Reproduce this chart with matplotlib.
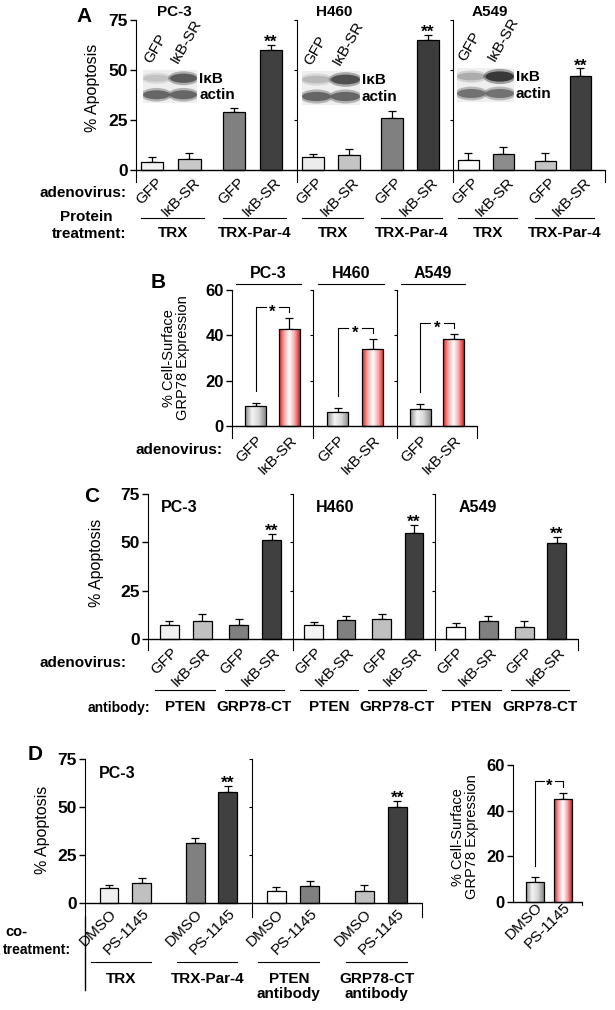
import numpy as np
import matplotlib
matplotlib.use("Agg")
import matplotlib.pyplot as plt
import matplotlib.transforms as mtransforms
from matplotlib.colors import LinearSegmentedColormap
from matplotlib.patches import Ellipse, Rectangle

plt.rcParams['font.family'] = ['Liberation Sans', 'DejaVu Sans']

# ---- data ----
cell_lines = ['PC-3', 'H460', 'A549']
adeno_labels = ['GFP', 'IκB-SR', 'GFP', 'IκB-SR']
protein_treatments = ['TRX', 'TRX-Par-4']

a_values = [[3.8, 5.7, 28.8, 60.0], [6.3, 7.7, 26.0, 65.0], [5.0, 8.0, 4.7, 47.0]]
a_errors = [[2.9, 2.6, 2.4, 2.5], [1.7, 2.6, 3.5, 2.5], [3.3, 3.7, 4.0, 3.8]]
a_colors = [['#f2f2f2', '#c8c8c8', '#808080', '#404040'],
            ['#ececec', '#c4c4c4', '#808080', '#3c3c3c'],
            ['#ffffff', '#8c8c8c', '#c4c4c4', '#404040']]
blot_ikb = [[0.25, 0.7], [0.3, 0.75], [0.35, 0.85]]
blot_actin = [[0.65, 0.65], [0.65, 0.65], [0.6, 0.6]]

b_labels = ['GFP', 'IκB-SR']
b_values = [[9.0, 42.6], [6.3, 34.1], [7.5, 38.4]]
b_errors = [[1.3, 5.0], [1.8, 4.3], [2.4, 2.2]]

c_values = [[7.4, 9.5, 7.4, 51.3], [7.1, 10.0, 10.5, 55.0], [6.0, 9.1, 6.0, 49.4]]
c_errors = [[2.1, 3.4, 2.8, 3.1], [1.7, 1.7, 2.4, 4.0], [2.3, 2.6, 3.1, 3.3]]
c_colors = [['#f0f0f0', '#c0c0c0', '#808080', '#404040'],
            ['#f4f4f4', '#808080', '#c0c0c0', '#404040'],
            ['#ffffff', '#808080', '#c0c0c0', '#404040']]
antibodies = ['PTEN', 'GRP78-CT']

d_labels = ['DMSO', 'PS-1145', 'DMSO', 'PS-1145']
d_groups = [['TRX', 'TRX-Par-4'], ['PTEN\nantibody', 'GRP78-CT\nantibody']]
d_values = [[7.6, 10.2, 31.5, 58.0], [6.4, 8.7, 6.4, 49.9]]
d_errors = [[1.8, 2.6, 2.6, 3.0], [1.9, 2.7, 3.0, 3.1]]
d_colors = [['#f0f0f0', '#c0c0c0', '#808080', '#404040'],
            ['#ffffff', '#808080', '#c0c0c0', '#404040']]
d2_labels = ['DMSO', 'PS-1145']
d2_values = [8.6, 45.3]
d2_errors = [2.3, 2.6]

# ---- layout helpers (pixel coords, origin top-left) ----
W, H = 615, 1010
fig = plt.figure(figsize=(W / 100, H / 100), dpi=100)
PX = mtransforms.Affine2D().scale(1 / W, -1 / H).translate(0, 1) + fig.transFigure


def add_ax(x0, y0, x1, y1):
    return fig.add_axes([x0 / W, 1 - y1 / H, (x1 - x0) / W, (y1 - y0) / H])


def ftext(x, y, s, **kw):
    kw.setdefault('ha', 'center')
    kw.setdefault('va', 'center')
    fig.text(x, y, s, transform=PX, **kw)


def bt(ax):
    return mtransforms.blended_transform_factory(ax.transData, PX)


def style_ax(ax, xlim, ylim, yticks, first, last, size=12.5):
    ax.set_xlim(*xlim)
    ax.set_ylim(*ylim)
    ax.spines[['top', 'bottom']].set_visible(False)
    ax.spines['right'].set_visible(last)
    if last:
        ax.spines['right'].set_bounds(ylim[0], 0)
    ax.axhline(0, color='black', lw=1, zorder=4)
    ax.set_yticks(yticks)
    if first:
        ax.tick_params(axis='y', length=4, width=1, labelsize=size, pad=2)
        for t in ax.get_yticklabels():
            t.set_fontweight('bold')
    else:
        ax.tick_params(axis='y', length=2, width=0.8, labelleft=False)
    ax.patch.set_alpha(0)


def xlabels(ax, pos, labels, size=11, pad=0, dx=6):
    ax.set_xticks(pos)
    ax.set_xticklabels(labels, rotation=45, ha='right', va='center',
                       rotation_mode='anchor', fontsize=size)
    ax.tick_params(axis='x', length=0, pad=pad)
    off = mtransforms.ScaledTranslation(dx / 100, 0, fig.dpi_scale_trans)
    for t in ax.get_xticklabels():
        t.set_transform(t.get_transform() + off)


def draw_bars(ax, pos, vals, errs, colors, width):
    ax.bar(pos, vals, width, color=colors, edgecolor='black', linewidth=0.9, zorder=2)
    ax.errorbar(pos, vals, yerr=[np.zeros(len(errs)), errs], fmt='none', ecolor='black',
                elinewidth=0.9, capsize=3, capthick=0.9, zorder=1)


gray_cmap = LinearSegmentedColormap.from_list('g', ['#8a8a8a', '#f4f4f4', '#d6d6d6', '#888888'])
red_cmap = LinearSegmentedColormap.from_list('r', ['#d42020', '#f6a8a8', '#ffffff', '#f6a8a8', '#d42020'])


def gradient_bars(ax, pos, vals, errs, width):
    bars = ax.bar(pos, vals, width, facecolor='none', edgecolor='black', linewidth=0.9, zorder=3)
    ramp = np.linspace(0, 1, 128)[None, :]
    for b, cm in zip(bars, [gray_cmap, red_cmap]):
        x0 = b.get_x()
        im = ax.imshow(ramp, cmap=cm, extent=[x0, x0 + b.get_width(), 0, b.get_height()],
                       aspect='auto', zorder=2)
        im.set_clip_path(b)
    ax.errorbar(pos, vals, yerr=[np.zeros(len(errs)), errs], fmt='none', ecolor='black',
                elinewidth=0.9, capsize=3, capthick=0.9, zorder=1)


def stars(ax, x, top, s='**', size=12.5, lift=5.8):
    # baseline placed so the glyph centre sits `lift` pt above the point
    ax.annotate(s, (x, top), xytext=(0, lift - 0.58 * size), textcoords='offset points',
                ha='center', va='baseline', fontsize=size, fontweight='bold')


def bracket(ax, pos, vals, errs):
    x1, x2 = pos
    y_lo = vals[0] + errs[0] + 5
    y_hi = vals[1] + errs[1] + 5
    xm, gap = (x1 + x2) / 2, 0.2
    ax.plot([x1, x1, xm - gap], [y_lo, y_hi, y_hi], color='black', lw=0.8)
    ax.plot([xm + gap, x2, x2], [y_hi, y_hi, y_hi - 2.5], color='black', lw=0.8)
    stars(ax, xm, y_hi, '*', size=12, lift=0)


def underline_groups(ax, pos, names, line_y, text_y, left=0.3, right=0.4, size=11, **kw):
    for i, name in enumerate(names):
        xa, xb = pos[2 * i] - left, pos[2 * i + 1] + right
        ax.plot([xa, xb], [line_y, line_y], color='black', lw=0.8,
                transform=bt(ax), clip_on=False)
        ax.text((xa + xb) / 2, text_y, name, transform=bt(ax), ha='center',
                fontsize=size, fontweight='bold', **kw)


def draw_blot(x0, y0, x1, y1, ikb, actin):
    bx = add_ax(x0, y0, x1, y1)
    bx.set_xlim(0, 2)
    bx.set_ylim(2, 0)
    bx.axis('off')
    bx.add_patch(Rectangle((0, 0), 2, 2, facecolor='#efefef', edgecolor='none'))
    for row, levels in enumerate([ikb, actin]):
        for lane, lv in enumerate(levels):
            g = 1 - lv
            bx.add_patch(Ellipse((lane + 0.5, row + 0.5), 1.15, 0.6 + 0.35 * lv,
                                 facecolor=(g, g, g), edgecolor='none', alpha=0.4))
            bx.add_patch(Ellipse((lane + 0.5, row + 0.5), 1.0, 0.35 + 0.3 * lv,
                                 facecolor=(g, g, g), edgecolor='none', alpha=0.85))
    ftext(x1 + 2, y0 + (y1 - y0) * 0.27, 'IκB', ha='left', fontsize=11, fontweight='bold')
    ftext(x1 + 2, y0 + (y1 - y0) * 0.77, 'actin', ha='left', fontsize=11, fontweight='bold')
    lane_w = (x1 - x0) / 2
    for lane, s in enumerate(['GFP', 'IκB-SR']):
        ftext(x0 + lane_w * (lane + 0.5) - 3, y0 - 4, s, ha='left', va='bottom',
              rotation=60, rotation_mode='anchor', fontsize=11)


# ---- Panel A ----
a_pos = [0, 1, 2.2, 3.2]
a_spans = [(136, 297), (297, 453), (453, 605)]
a_blots = [(143, 70, 197, 103), (302, 71, 360, 105), (457, 68, 514, 102)]
for i, (x0, x1) in enumerate(a_spans):
    ax = add_ax(x0, 20, x1, 182)
    draw_bars(ax, a_pos, a_values[i], a_errors[i], a_colors[i], 0.6)
    style_ax(ax, (-0.44, 3.9), (-6, 75), [0, 25, 50, 75], i == 0, i == 2)
    xlabels(ax, a_pos, adeno_labels, pad=-1.5, dx=8)
    ax.text(0.6, 12, cell_lines[i], transform=bt(ax), ha='center', va='center',
            fontsize=11, fontweight='bold')
    stars(ax, a_pos[3], a_values[i][3] + a_errors[i][3])
    underline_groups(ax, a_pos, protein_treatments, 218, 233, va='center')
    draw_blot(*a_blots[i], blot_ikb[i], blot_actin[i])

ftext(84, 16, 'A', fontsize=15, fontweight='bold')
ftext(92, 88, '% Apoptosis', rotation=90, fontsize=11.5)
ftext(127, 193, 'adenovirus:', ha='right', fontsize=11, fontweight='bold')
ftext(86, 217, 'Protein', fontsize=11, fontweight='bold')
ftext(89, 234, 'treatment:', fontsize=11, fontweight='bold')

# ---- Panel B ----
b_pos = [0, 1]
b_spans = [(232, 313), (313, 397), (397, 477)]
for i, (x0, x1) in enumerate(b_spans):
    ax = add_ax(x0, 290, x1, 438)
    gradient_bars(ax, b_pos, b_values[i], b_errors[i], 0.62)
    bracket(ax, b_pos, b_values[i], b_errors[i])
    style_ax(ax, (-0.7, 1.7), (-5.3, 60), [0, 20, 40, 60], i == 0, i == 2, size=12)
    xlabels(ax, b_pos, b_labels, pad=0, dx=5)
    ax.plot([-0.57, 1.33], [284, 284], color='black', lw=0.8, transform=bt(ax), clip_on=False)
    ax.text(0.38, 274, cell_lines[i], transform=bt(ax), ha='center', va='center',
            fontsize=11.5, fontweight='bold')

ftext(158, 283, 'B', fontsize=15, fontweight='bold')
ftext(176, 358, '% Cell-Surface\nGRP78 Expression', rotation=90, fontsize=10.5, linespacing=0.95)
ftext(222, 450, 'adenovirus:', ha='right', fontsize=11, fontweight='bold')

# ---- Panel C ----
c_pos = [0, 1, 2.1, 3.1]
c_spans = [(148, 293), (293, 435), (435, 578)]
c_title_x = [0.3, 0.66, 0.66]
for i, (x0, x1) in enumerate(c_spans):
    ax = add_ax(x0, 494, x1, 650)
    draw_bars(ax, c_pos, c_values[i], c_errors[i], c_colors[i], 0.58)
    style_ax(ax, (-0.64, 3.75), (-5.7, 75), [0, 25, 50, 75], i == 0, i == 2)
    xlabels(ax, c_pos, adeno_labels, pad=0, dx=6)
    ax.text(c_title_x[i], 508, cell_lines[i], transform=bt(ax), ha='center', va='center',
            fontsize=11.5, fontweight='bold')
    stars(ax, c_pos[3], c_values[i][3] + c_errors[i][3])
    underline_groups(ax, c_pos, antibodies, 690, 707, left=0.42, right=0.38, va='center')

ftext(92, 497, 'C', fontsize=15, fontweight='bold')
ftext(97, 563, '% Apoptosis', rotation=90, fontsize=11.5)
ftext(127, 663, 'adenovirus:', ha='right', fontsize=11, fontweight='bold')
ftext(150, 708, 'antibody:', ha='right', fontsize=10, fontweight='bold')

# ---- Panel D ----
d_pos = [0, 1, 2.65, 3.65]
d_spans = [(85, 252), (252, 422)]
for i, (x0, x1) in enumerate(d_spans):
    ax = add_ax(x0, 759, x1, 917)
    draw_bars(ax, d_pos, d_values[i], d_errors[i], d_colors[i], 0.58)
    style_ax(ax, (-0.74, 4.4), (-7.3, 75), [0, 25, 50, 75], i == 0, i == 1)
    xlabels(ax, d_pos, d_labels, pad=-4, dx=5)
    stars(ax, d_pos[3], d_values[i][3] + d_errors[i][3])
    underline_groups(ax, d_pos, d_groups[i], 962, 972, left=0.55, right=0.3,
                     va='top', linespacing=1.1)
    if i == 0:
        ax.plot([0, 0], [0, -0.462], color='black', lw=1, transform=ax.transAxes, clip_on=False)
        ax.text(0.24, 773, 'PC-3', transform=bt(ax), ha='center', va='center',
                fontsize=11.5, fontweight='bold')

ftext(35, 754, 'D', fontsize=15, fontweight='bold')
ftext(43, 830, '% Apoptosis', rotation=90, fontsize=11.5)
ftext(5, 932, 'co-', ha='left', fontsize=10.5, fontweight='bold')
ftext(3, 950, 'treatment:', ha='left', fontsize=10, fontweight='bold')

ax = add_ax(513, 765, 582, 905)
d2_pos = [0, 1]
gradient_bars(ax, d2_pos, d2_values, d2_errors, 0.64)
bracket(ax, d2_pos, d2_values, d2_errors)
style_ax(ax, (-0.79, 1.67), (-1.3, 60), [0, 20, 40, 60], True, True, size=12)
ax.spines['left'].set_bounds(0, 60)
xlabels(ax, d2_pos, d2_labels, pad=0, dx=5)
ftext(465, 837, '% Cell-Surface\nGRP78 Expression', rotation=90, fontsize=10.5, linespacing=0.95)

fig.savefig('out.png', dpi=100)
